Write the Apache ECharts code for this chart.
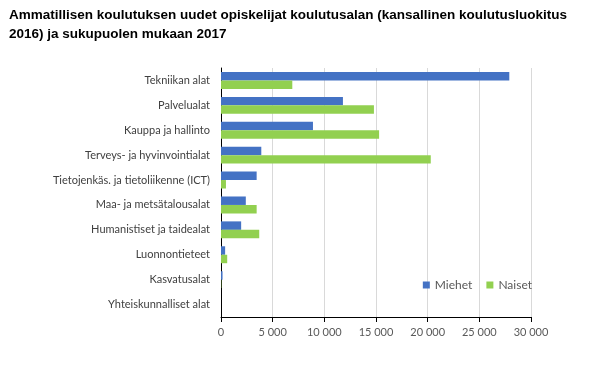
<!DOCTYPE html>
<html><head><meta charset="utf-8">
<script src="https://cdn.jsdelivr.net/npm/echarts@6/dist/echarts.min.js"></script>
<style>html,body{margin:0;padding:0;background:#fff}#c{width:598px;height:371px}</style>
</head><body><div id="c"></div>
<script>
const titleText = "Ammatillisen koulutuksen uudet opiskelijat koulutusalan (kansallinen koulutusluokitus\n2016) ja sukupuolen mukaan 2017";
const categories = ["Tekniikan alat","Palvelualat","Kauppa ja hallinto","Terveys- ja hyvinvointialat","Tietojenkäs. ja tietoliikenne (ICT)","Maa- ja metsätalousalat","Humanistiset ja taidealat","Luonnontieteet","Kasvatusalat","Yhteiskunnalliset alat"];
const seriesNames = ["Miehet","Naiset"];
const miehet = [27900,11800,8900,3900,3450,2400,1950,400,150,0];
const naiset = [6900,14800,15300,20300,480,3450,3700,600,30,0];
const xTicks = [0,5000,10000,15000,20000,25000,30000];

const chart = echarts.init(document.getElementById('c'), null, {renderer:'canvas'});
const fmt = v => v===0 ? '0' : String(v).replace(/\B(?=(\d{3})+(?!\d))/g,' ');
chart.setOption({
  animation:false,
  title:{text:titleText,left:4,top:1,textStyle:{fontFamily:'Liberation Sans, Arial',fontWeight:'bold',fontSize:13.5,color:'#000',lineHeight:19}},
  legend:{data:seriesNames,right:61,top:274,itemWidth:7,itemHeight:7,itemGap:14,icon:'rect',
    textStyle:{fontFamily:'Lato',fontSize:12,color:'#595959'}},
  grid:{left:221,right:67,top:68,bottom:54},
  xAxis:{type:'value',min:xTicks[0],max:xTicks[xTicks.length-1],interval:5000,
    axisLine:{show:true,lineStyle:{color:'#000',width:1}},
    axisTick:{show:true,length:5,lineStyle:{color:'#000'}},
    axisLabel:{formatter:fmt,fontFamily:'Lato',fontSize:11,color:'#595959',margin:10},
    splitLine:{show:true,lineStyle:{color:'#d9d9d9'}}},
  yAxis:{type:'category',data:categories,inverse:true,
    axisLine:{show:true,lineStyle:{color:'#000',width:1}},
    axisTick:{show:false},
    axisLabel:{fontFamily:'Lato',fontSize:11,color:'#404040',margin:11}},
  series:[
    {name:seriesNames[0],type:'bar',data:miehet,itemStyle:{color:'#4472C4'},barGap:'0%',barCategoryGap:'32%'},
    {name:seriesNames[1],type:'bar',data:naiset,itemStyle:{color:'#92D050'},barGap:'0%',barCategoryGap:'32%'}
  ]
});
</script></body></html>
